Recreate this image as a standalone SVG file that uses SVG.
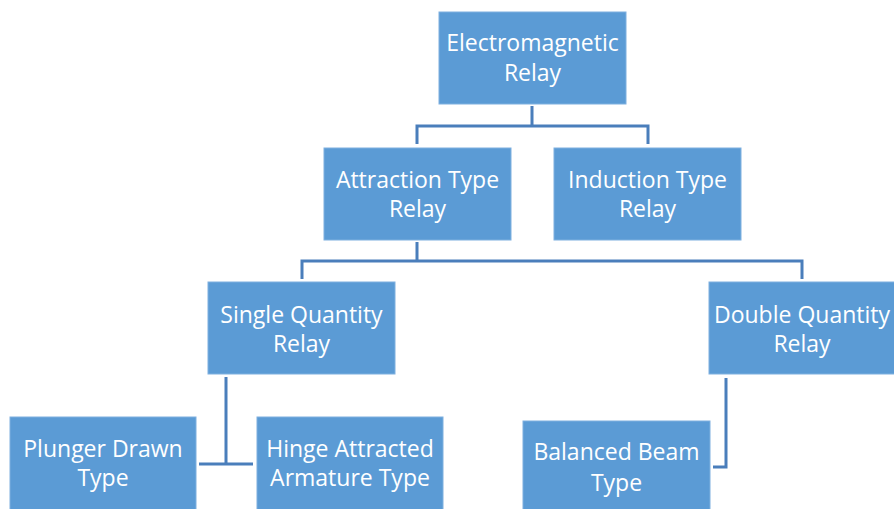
<svg xmlns="http://www.w3.org/2000/svg" width="894" height="509" viewBox="0 0 894 509">
<style>
.box{fill:#5B9BD5;stroke:#7FB0DF;stroke-width:1}
.t{font-family:"Open Sans","Liberation Sans",sans-serif;font-size:23px;fill:#FFFFFF;text-anchor:middle}
.c{fill:none;stroke:#4A7EBB;stroke-width:3}
</style>
<rect width="894" height="509" fill="#FFFFFF"/>
<g id="connectors">
<path class="c" d="M532,106 V126 M417,144 V126 H648 V144"/>
<path class="c" d="M417,242 V261 M302,279 V261 H802 V279"/>
<path class="c" d="M226,377 V464 M199,464 H253"/>
<path class="c" d="M726,378 V467 H713"/>
</g>
<g id="n-electromagnetic">
<rect class="box" x="439" y="12" width="187" height="92"/>
<text class="t" x="532.5" y="51">Electromagnetic</text>
<text class="t" x="532.5" y="81">Relay</text>
</g>
<g id="n-attraction">
<rect class="box" x="324" y="148" width="187" height="92"/>
<text class="t" x="417.5" y="188">Attraction Type</text>
<text class="t" x="417.5" y="217">Relay</text>
</g>
<g id="n-induction">
<rect class="box" x="554" y="148" width="187" height="92"/>
<text class="t" x="647.5" y="188">Induction Type</text>
<text class="t" x="647.5" y="217">Relay</text>
</g>
<g id="n-single">
<rect class="box" x="208" y="282" width="187" height="92"/>
<text class="t" x="301.5" y="323">Single Quantity</text>
<text class="t" x="301.5" y="352">Relay</text>
</g>
<g id="n-double">
<rect class="box" x="709" y="282" width="187" height="92"/>
<text class="t" x="802" y="323">Double Quantity</text>
<text class="t" x="802" y="352">Relay</text>
</g>
<g id="n-plunger">
<rect class="box" x="10" y="417" width="186" height="96"/>
<text class="t" x="103" y="457">Plunger Drawn</text>
<text class="t" x="103" y="486">Type</text>
</g>
<g id="n-hinge">
<rect class="box" x="257" y="417" width="186" height="96"/>
<text class="t" x="350" y="457">Hinge Attracted</text>
<text class="t" x="350" y="486">Armature Type</text>
</g>
<g id="n-balanced">
<rect class="box" x="523" y="421" width="187" height="92"/>
<text class="t" x="616.5" y="460">Balanced Beam</text>
<text class="t" x="616.5" y="491">Type</text>
</g>
</svg>
